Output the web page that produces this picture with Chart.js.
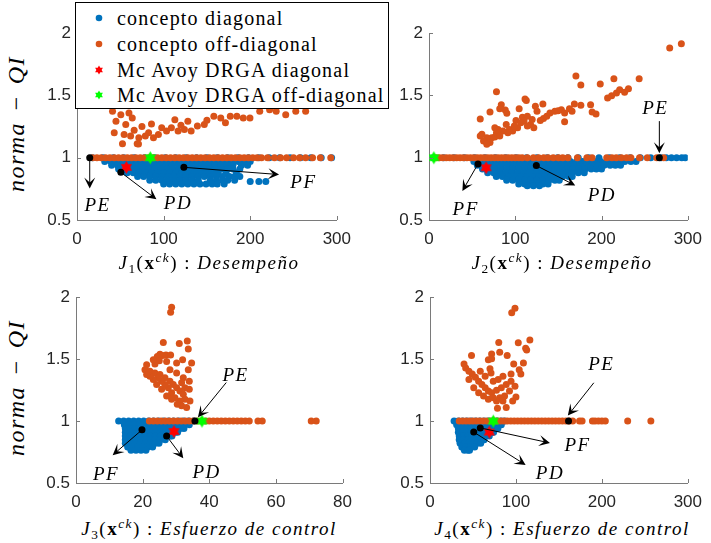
<!DOCTYPE html>
<html><head><meta charset="utf-8">
<script src="https://cdn.jsdelivr.net/npm/chart.js@4.4.1/dist/chart.umd.min.js"></script>
<style>
body{margin:0;background:#fff;width:711px;height:543px;position:relative;overflow:hidden}
canvas{position:absolute}
.t{position:absolute;transform:translate(-50%,-50%);white-space:nowrap;font-family:"Liberation Serif",serif;color:#000;line-height:1}
.xt{font-size:19px;letter-spacing:1.5px}
.xt i{font-style:italic}
.xt b{font-weight:bold;font-style:normal}
.xt sub,.xt sup{font-size:70%;line-height:0;position:relative;vertical-align:baseline}
.xt sub{top:0.3em}
.xt sup{top:-0.55em}
.yl{font-size:24px;font-style:italic;letter-spacing:1.5px;transform:translate(-50%,-50%) rotate(-90deg)}
.an{font-size:19px;font-style:italic;letter-spacing:1.5px}
#legend{position:absolute;left:75px;top:2px;width:312px;height:105px;border:1px solid #000;background:#fff;z-index:5;font-family:"Liberation Serif",serif;font-size:20px;letter-spacing:1.2px;color:#000}
#legend .r{position:absolute;left:0;height:24px;width:100%}
#legend svg{position:absolute;left:17px;top:6px}
#legend span{position:absolute;left:41px;top:1px;white-space:nowrap;line-height:22px}
</style></head><body>
<canvas id="c1" width="328" height="233" style="left:32px;top:17px"></canvas>
<canvas id="c2" width="327" height="233" style="left:384px;top:17px"></canvas>
<canvas id="c3" width="330" height="232" style="left:31px;top:281px"></canvas>
<canvas id="c4" width="326" height="232" style="left:385px;top:281px"></canvas>

<div id="legend">
 <div class="r" style="top:3px"><svg width="12" height="12"><circle cx="6" cy="6" r="3.3" fill="#0072BD"/></svg><span>concepto diagonal</span></div>
 <div class="r" style="top:29px"><svg width="12" height="12"><circle cx="6" cy="6" r="3.3" fill="#D95319"/></svg><span>concepto off-diagonal</span></div>
 <div class="r" style="top:55px"><svg width="12" height="12"><path d="M6,1.5 L7.3,3.8 L9.9,3.8 L8.6,6 L9.9,8.2 L7.3,8.2 L6,10.5 L4.7,8.2 L2.1,8.2 L3.4,6 L2.1,3.8 L4.7,3.8 Z" fill="#FF0000"/></svg><span>Mc Avoy DRGA diagonal</span></div>
 <div class="r" style="top:80px"><svg width="12" height="12"><path d="M6,1.5 L7.3,3.8 L9.9,3.8 L8.6,6 L9.9,8.2 L7.3,8.2 L6,10.5 L4.7,8.2 L2.1,8.2 L3.4,6 L2.1,3.8 L4.7,3.8 Z" fill="#00FF00"/></svg><span>Mc Avoy DRGA off-diagonal</span></div>
</div>

<div class="t yl" style="left:16px;top:124px">norma<span style="margin:0 10px">−</span>QI</div>
<div class="t yl" style="left:16px;top:388px">norma<span style="margin:0 10px">−</span>QI</div>
<div class="t xt" style="left:209px;top:262px"><i>J</i><sub>1</sub>(<b>x</b><sup><i>ck</i></sup>) : <i>Desempeño</i></div>
<div class="t xt" style="left:562px;top:262px"><i>J</i><sub>2</sub>(<b>x</b><sup><i>ck</i></sup>) : <i>Desempeño</i></div>
<div class="t xt" style="left:209px;top:528px"><i>J</i><sub>3</sub>(<b>x</b><sup><i>ck</i></sup>) : <i>Esfuerzo de control</i></div>
<div class="t xt" style="left:562px;top:528px"><i>J</i><sub>4</sub>(<b>x</b><sup><i>ck</i></sup>) : <i>Esfuerzo de control</i></div>

<script>
// ---------------- DATA ----------------
const seriesNames = ['concepto diagonal','concepto off-diagonal','Mc Avoy DRGA diagonal','Mc Avoy DRGA off-diagonal'];
const yTicks = [0.5, 1, 1.5, 2];

// ---- J1 : Desempeño ----
const j1BlueRows = [
 [1.00,[18,30,42,54,66,78,90,102,114,126,138,150,162,174,186,198,210,222,234,246,258,270,282,294]],
 [0.97,[32,39,46,53,60,67,74,81,88,95,102,109,116,123,130,137,144,151,158,165,172,179,186,193,200]],
 [0.94,[40,47,54,61,68,75,82,89,96,103,110,117,124,131,138,145,152,159,166,173,180,190,197]],
 [0.91,[48,55,62,69,76,83,90,97,104,111,118,125,132,139,146,153,160,167,174,180,188]],
 [0.88,[58,65,72,79,86,93,100,107,114,121,128,135,142,149,156,163,172,184]],
 [0.85,[70,77,84,91,98,105,112,119,126,133,140,147,154,161,168,176,182,188]],
 [0.82,[84,91,98,105,112,119,126,133,140,154,161,168,174,182]],
 [0.81,[200,210,218]],
 [0.79,[100,107,114,121,128,135,142,149,156,162,170]]
];
const j1OrangeLine = [18,23,28,33,38,43,48,53,58,63,68,73,78,83,88,93,98,103,108,113,118,123,128,133,138,143,148,153,158,163,168,173,178,183,188,193,198,203,208,213,220,228,235,242,250,257,264,272,281,293];
const j1OrangeCloud = [[41,1.373],[50.6,1.346],[60,1.359],[63.8,1.32],[45,1.293],[56.3,1.267],[43,1.2],[54.4,1.187],[61.9,1.174],[71.4,1.161],[52.5,1.113],[69.5,1.113],[78.9,1.174],[82.7,1.2],[88.3,1.161],[94,1.187],[97.8,1.24],[103.4,1.214],[109,1.24],[113,1.306],[116.7,1.214],[124,1.227],[131.8,1.214],[139,1.254],[147,1.267],[128,1.293],[158,1.333],[166,1.32],[171.4,1.28],[177,1.333],[184.6,1.333],[192,1.32],[199.7,1.32],[211,1.373],[222.4,1.386],[230,1.373],[241,1.346],[252.6,1.373],[264,1.373],[71,1.11],[75,1.25],[66,1.22],[86,1.27],[120,1.26],[150,1.3],[210,1.42],[250,1.5],[280,1.6]];
const j1Red = [[57,0.923]];
const j1Green = [[84.6,1.0]];
const j1Black = [[14.7,1.0],[50.6,0.883],[123.4,0.923]];
const j1Arrows = [[14.7,1.0,14.7,0.752],[50.6,0.883,91.7,0.667],[123.4,0.923,233.3,0.865]];
const j1Labels = [['PE',23.8,0.627],['PD',116.6,0.643],['PF',261.5,0.817]];

// ---- J2 : Desempeño ----
const j2BlueRows = [
 [1.00,[5,17,29,41,53,65,77,89,101,113,125,137,149,161,173,185,197,209,221,233,245,257,269,275,281,287,293,297]],
 [0.97,[52,59,66,73,80,87,94,101,108,115,122,129,136,143,150,157,164,171,178,185,192,199,206,213,220,227,234,240]],
 [0.94,[56,63,70,77,84,91,98,105,112,119,126,133,140,147,154,161,168,175,182,189,196,203,210,216,222]],
 [0.91,[62,69,76,83,90,97,104,111,118,125,132,139,146,153,160,167,174,181,188,194,200]],
 [0.88,[68,75,82,89,96,103,110,117,124,131,138,145,152,159,166,173,180]],
 [0.85,[78,85,92,99,106,113,120,127,134,141,148,155,162,166]],
 [0.82,[90,97,104,111,118,125,132,139,146,151]],
 [0.79,[104,111,118,125,132,138]],
 [0.775,[114,121,128]]
];
const j2OrangeLine = [8,12,16,20,24,28,32,36,40,44,48,52,56,60,64,68,72,76,80,84,88,92,96,100,104,108,114,121,127,133,138,144,150,155,161,172,183,189,206,212,217,223,229,234,244,253,264,272];
const j2OrangeCloud = [[279,1.881],[292.5,1.916],[170.3,1.656],[176,1.585],[198.5,1.593],[214.3,1.635],[243.6,1.635],[207,1.479],[211.7,1.497],[217.3,1.519],[221,1.545],[226.7,1.526],[231.2,1.553],[78.2,1.529],[111.3,1.471],[112.8,1.46],[70.7,1.368],[59.4,1.312],[83.8,1.426],[88.4,1.384],[90.2,1.357],[82,1.394],[104.5,1.394],[123.3,1.413],[125.2,1.373],[132,1.431],[100.8,1.299],[108.3,1.325],[114,1.333],[110.2,1.294],[117.7,1.267],[121.5,1.241],[102.7,1.241],[97,1.214],[93.2,1.227],[91.4,1.201],[85.7,1.214],[80.1,1.227],[78.2,1.201],[76.3,1.167],[82,1.174],[72.6,1.161],[67,1.161],[61.3,1.188],[63.2,1.135],[70.7,1.122],[67,1.108],[59.4,1.175],[76.3,1.241],[89.5,1.267],[98.9,1.254],[106.4,1.28],[114,1.254],[119.6,1.307],[129,1.299],[132.7,1.315],[136.5,1.333],[140.2,1.36],[145.9,1.373],[149.6,1.378],[153.4,1.386],[157.2,1.36],[162.8,1.394],[165.8,1.373],[168.5,1.431],[176,1.421],[187.3,1.426],[189.1,1.368],[193.6,1.352],[157.2,1.288]];
const j2Red = [[66.2,0.92]];
const j2Green = [[5.6,1.0]];
const j2Black = [[56.8,0.95],[124.4,0.937],[267,1.0]];
const j2Arrows = [[56.8,0.95,38.7,0.733],[124.4,0.937,169.5,0.778],[267,1.294,267,1.035]];
const j2Labels = [['PF',42.5,0.595],['PD',200.4,0.706],['PE',262.4,1.405]];

// ---- J3 : Esfuerzo de control ----
const j3BlueRows = [
 [1.00,[12.8,14.3,15.8,17.3,18.8,20.3,21.8,23.3,24.8,26.3,27.8,29.3,30.8,32.3,33.8,35.3]],
 [0.97,[14.5,16,17.5,19,20.5,22,23.5,25,26.5,28,29.5,31,32.5,34]],
 [0.94,[14.8,16.3,17.8,19.3,20.8,22.3,23.8,25.3,26.8,28.3,29.8,31.3,32.4]],
 [0.91,[14.8,16.3,17.8,19.3,20.8,22.3,23.8,25.3,26.8,28.3,29.8,30.5]],
 [0.88,[14.8,16.3,17.8,19.3,20.8,22.3,23.8,25.3,26.8,28.3,28.8]],
 [0.85,[14.8,16.3,17.8,19.3,20.8,22.3,23.8,25.3,26.8]],
 [0.82,[14.8,16.3,17.8,19.3,20.8,22.3,23.8,24.9]],
 [0.79,[15.5,17,18.5,20,21.5,23]],
 [0.765,[16.5,18,19.5,21]]
];
const j3OrangeLine = [22,23.2,24.4,25.6,26.8,28,29.2,30.4,31.6,32.8,34,35.2,36.4,37.6,38.8,40,41.2,42.4,43.6,44.8,46,47.2,48.4,49.6,50.8,52,54.6,55.9,70.6,72.1];
const j3OrangeCloud = [[28.7,1.919],[28.4,1.879],[26.2,1.635],[31,1.627],[33.4,1.646],[33.7,1.582],[25.2,1.54],[24.4,1.521],[26,1.529],[27,1.534],[28.4,1.534],[25,1.487],[23.7,1.46],[23.2,1.495],[27.2,1.481],[30.2,1.468],[32,1.495],[34.7,1.468],[21.2,1.455],[20.7,1.415],[22.2,1.402],[23.7,1.388],[25.2,1.375],[26.7,1.349],[28.2,1.322],[29.2,1.296],[30.2,1.269],[31.2,1.242],[32.2,1.216],[32.7,1.176],[31.2,1.163],[31.7,1.123],[33.2,1.11],[30.4,1.136],[29.7,1.189],[28.7,1.229],[27.7,1.269],[26.7,1.296],[25.7,1.322],[24.7,1.349],[23.2,1.335],[22.2,1.362],[21.2,1.375],[24.2,1.296],[25.7,1.256],[27.2,1.203],[28.7,1.176],[33.7,1.415],[34,1.322],[34,1.256],[34.2,1.163],[32.7,1.269],[32.2,1.349],[30.2,1.388],[28.2,1.415],[31.7,1.309]];
const j3Red = [[29.4,0.916]];
const j3Green = [[37.8,1.0]];
const j3Black = [[35.7,1.0],[19.8,0.929],[27.2,0.879]];
const j3Arrows = [[45.1,1.311,36.6,1.03],[19.8,0.929,11,0.725],[27.2,0.879,32.2,0.699]];
const j3Labels = [['PE',47.9,1.378],['PF',9.0,0.582],['PD',39.2,0.598]];

// ---- J4 : Esfuerzo de control ----
const j4BlueRows = [
 [1.00,[28,33,38,43,48,53,58,63,68,73,78,83,87]],
 [0.97,[31,36,41,46,51,56,61,66,71,76,80,83]],
 [0.94,[33,38,43,48,53,58,63,68,73,77,79]],
 [0.91,[33,38,43,48,53,58,63,68,72,74]],
 [0.88,[34,39,44,49,54,59,64,69]],
 [0.85,[34,39,44,49,54,59,63]],
 [0.82,[35,40,45,50,55,59]],
 [0.79,[37,42,47,52]],
 [0.765,[40,44,46]]
];
const j4OrangeLine = [34,38,42,46,50,54,58,62,66,70,74,78,82,86,90,94,98,102,106,110,114,118,122,126,130,134,138,142,146,150,154,158,162,166,174,177,189,192,196,200,204,230,257];
const j4OrangeCloud = [[95.1,1.874],[98.9,1.911],[80,1.635],[102.7,1.633],[116.2,1.654],[111.3,1.587],[112.5,1.574],[48.3,1.529],[71.7,1.542],[81.1,1.556],[89.8,1.529],[67.9,1.495],[71.7,1.503],[97.4,1.46],[108.7,1.468],[39.6,1.46],[41.5,1.428],[45.3,1.402],[49.1,1.38],[69.8,1.423],[71,1.388],[94.3,1.38],[103.8,1.415],[105.7,1.38],[52.8,1.354],[56.6,1.322],[60.4,1.296],[64.2,1.269],[67.9,1.242],[71.7,1.229],[77.4,1.248],[83,1.269],[88.7,1.296],[94.3,1.322],[98.9,1.282],[92.5,1.242],[86.8,1.203],[81.1,1.189],[84.9,1.163],[77.4,1.163],[88.7,1.11],[78.5,1.104],[100,1.195],[45.3,1.335],[50.9,1.269],[56.6,1.229],[62.3,1.203],[67.9,1.176],[73.6,1.322],[79.3,1.335],[84.9,1.362],[64.2,1.362],[58.5,1.402],[73.6,1.189],[96.2,1.163]];
const j4Red = [[69,0.911]];
const j4Green = [[73.6,1.0]];
const j4Black = [[161.2,1.0],[58.5,0.945],[50.9,0.911]];
const j4Arrows = [[190.6,1.309,160.4,1.044],[58.5,0.945,139.6,0.823],[50.9,0.911,111.3,0.646]];
const j4Labels = [['PE',199.3,1.466],['PF',171.7,0.813],['PD',139.6,0.592]];

// ---------------- DRAWING ----------------
const BLUE = '#0072BD', ORANGE = '#D95319', AXIS = '#7a7a7a', TXT = '#262626';

function hexagram(color, r){
  const s = Math.ceil(2*r+2), c = document.createElement('canvas');
  c.width = s; c.height = s;
  const g = c.getContext('2d');
  g.fillStyle = color; g.beginPath();
  for (let i = 0; i < 12; i++){
    const a = -Math.PI/2 + i*Math.PI/6, rr = (i%2===0) ? r : r*0.577;
    g.lineTo(s/2 + rr*Math.cos(a), s/2 + rr*Math.sin(a));
  }
  g.closePath(); g.fill();
  return c;
}
const redStar = hexagram('#FF0000', 6.5);
const greenStar = hexagram('#00FF00', 6.5);

const rowsToPoints = rows => { const o=[]; rows.forEach(([y,xs]) => xs.forEach(x => o.push({x, y}))); return o; };
const pairs = arr => arr.map(([x,y]) => ({x, y}));
const atOne = xs => xs.map(x => ({x, y:1}));

const inwardTicks = {
  id:'inwardTicks',
  afterDraw(chart){
    const {ctx, chartArea:a, scales:{x, y}} = chart;
    ctx.save(); ctx.strokeStyle = AXIS; ctx.lineWidth = 1;
    x.ticks.forEach(t => { const p = Math.round(x.getPixelForValue(t.value)) + 0.5;
      ctx.beginPath(); ctx.moveTo(p, a.bottom); ctx.lineTo(p, a.bottom - 4); ctx.stroke(); });
    y.ticks.forEach(t => { const p = Math.round(y.getPixelForValue(t.value)) + 0.5;
      ctx.beginPath(); ctx.moveTo(a.left, p); ctx.lineTo(a.left + 4, p); ctx.stroke(); });
    ctx.restore();
  }
};

const arrowPlugin = {
  id:'arrows',
  afterDraw(chart, args, opts){
    const {ctx, scales:{x, y}} = chart;
    ctx.save(); ctx.strokeStyle = '#000'; ctx.fillStyle = '#000'; ctx.lineWidth = 1;
    (opts.list || []).forEach(([x0,y0,x1,y1]) => {
      const X0 = x.getPixelForValue(x0), Y0 = y.getPixelForValue(y0);
      const X1 = x.getPixelForValue(x1), Y1 = y.getPixelForValue(y1);
      const ang = Math.atan2(Y1-Y0, X1-X0), c = Math.cos(ang), s = Math.sin(ang);
      const L = 11, W = 5.5;
      ctx.beginPath(); ctx.moveTo(X0, Y0); ctx.lineTo(X1 - c*L*0.5, Y1 - s*L*0.5); ctx.stroke();
      ctx.beginPath();
      ctx.moveTo(X1, Y1);
      ctx.lineTo(X1 - c*L - s*W, Y1 - s*L + c*W);
      ctx.lineTo(X1 - c*L*0.55, Y1 - s*L*0.55);
      ctx.lineTo(X1 - c*L + s*W, Y1 - s*L - c*W);
      ctx.closePath(); ctx.fill();
    });
    ctx.restore();
  }
};

function makeChart(id, d){
  const cv = document.getElementById(id);
  const chart = new Chart(cv, {
    type:'scatter',
    data:{datasets:[
      {label:seriesNames[0], data:rowsToPoints(d.blue), backgroundColor:BLUE, pointRadius:3.5, pointBorderWidth:0, borderWidth:0, order:5},
      {label:seriesNames[1], data:[...pairs(d.cloud), ...atOne(d.line)], backgroundColor:ORANGE, pointRadius:3.5, pointBorderWidth:0, borderWidth:0, order:4},
      {label:seriesNames[2], data:pairs(d.red), pointStyle:redStar, pointRadius:6, order:3},
      {label:seriesNames[3], data:pairs(d.green), pointStyle:greenStar, pointRadius:6, order:2},
      {label:'PE / PF / PD', data:pairs(d.black), backgroundColor:'#000', pointRadius:3.5, pointBorderWidth:0, borderWidth:0, order:1}
    ]},
    options:{
      responsive:false, devicePixelRatio:1, animation:false, events:[],
      layout:{padding:{top:14, right:d.padR, left:0, bottom:0}},
      plugins:{legend:{display:false}, tooltip:{enabled:false}, arrows:{list:d.arrows}},
      scales:{
        x:{type:'linear', min:0, max:d.xmax,
          ticks:{stepSize:d.xstep, color:TXT, font:{family:'Liberation Sans', size:17}, padding:9, maxRotation:0, autoSkip:false},
          grid:{display:false, drawTicks:false}, border:{display:true, color:AXIS, width:1},
          afterFit(s){ s.height = 30; }},
        y:{type:'linear', min:0.5, max:2,
          afterBuildTicks(s){ s.ticks = yTicks.map(v => ({value:v})); },
          ticks:{color:TXT, font:{family:'Liberation Sans', size:17}, padding:6, callback:v => String(v)},
          grid:{display:false, drawTicks:false}, border:{display:true, color:AXIS, width:1},
          afterFit(s){ s.width = 45; }}
      }
    },
    plugins:[inwardTicks, arrowPlugin]
  });
  const left = parseFloat(cv.style.left), top = parseFloat(cv.style.top);
  d.labels.forEach(([t, lx, ly]) => {
    const el = document.createElement('div');
    el.className = 't an';
    el.textContent = t;
    el.style.left = (left + chart.scales.x.getPixelForValue(lx)) + 'px';
    el.style.top = (top + chart.scales.y.getPixelForValue(ly)) + 'px';
    document.body.appendChild(el);
  });
  return chart;
}

makeChart('c1', {blue:j1BlueRows, line:j1OrangeLine, cloud:j1OrangeCloud, red:j1Red, green:j1Green, black:j1Black, arrows:j1Arrows, labels:j1Labels, xmax:300, xstep:100, padR:18});
makeChart('c2', {blue:j2BlueRows, line:j2OrangeLine, cloud:j2OrangeCloud, red:j2Red, green:j2Green, black:j2Black, arrows:j2Arrows, labels:j2Labels, xmax:300, xstep:100, padR:16});
makeChart('c3', {blue:j3BlueRows, line:j3OrangeLine, cloud:j3OrangeCloud, red:j3Red, green:j3Green, black:j3Black, arrows:j3Arrows, labels:j3Labels, xmax:80, xstep:20, padR:18});
makeChart('c4', {blue:j4BlueRows, line:j4OrangeLine, cloud:j4OrangeCloud, red:j4Red, green:j4Green, black:j4Black, arrows:j4Arrows, labels:j4Labels, xmax:300, xstep:100, padR:16});
</script>
</body></html>
